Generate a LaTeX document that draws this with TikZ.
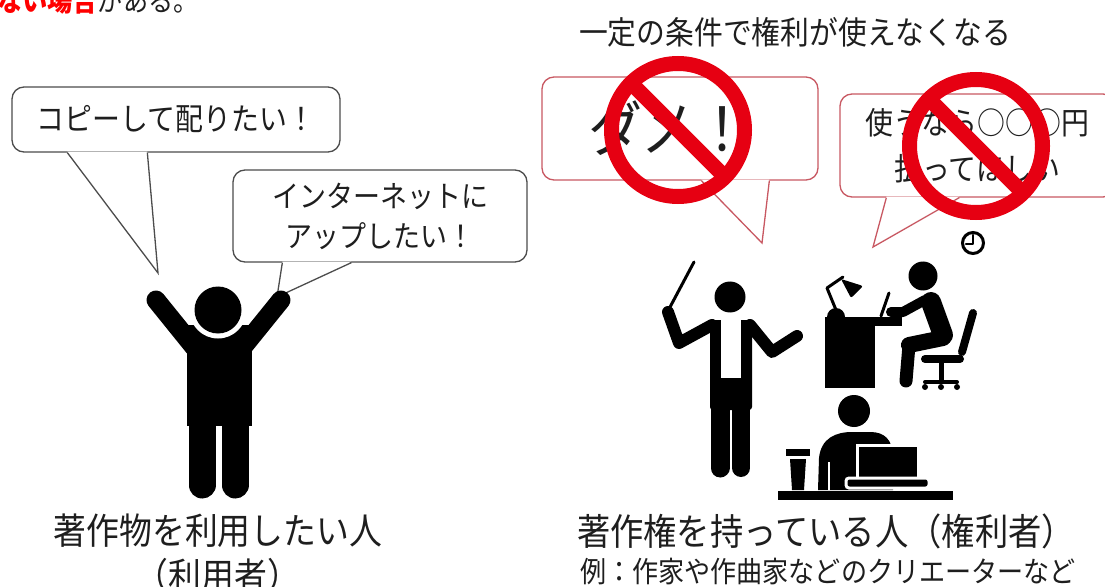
\documentclass[tikz,border=0pt]{standalone}
\usepackage{fontspec}
\setmainfont{Noto Sans CJK JP}[FakeStretch=0.9]
\usetikzlibrary{positioning, calc}

\definecolor{signred}{RGB}{230,0,18}
\definecolor{callred}{RGB}{200,88,98}
\definecolor{inkgray}{RGB}{30,30,30}

\tikzset{
  bubble/.style={draw=black!70, line width=1.3bp, fill=white, rounded corners=12bp, inner sep=0pt, align=center, text=inkgray},
  redbubble/.style={bubble, draw=callred},
  tailline/.style={black!70, line width=1.3bp},
  limb/.style={draw=black, line cap=round, line join=round},
  nosign/.style={draw=signred, line width=15bp},
  caption/.style={inner sep=0pt, text=inkgray, align=center},
}

\begin{document}
\begin{tikzpicture}[x=1bp, y=-1bp]
\useasboundingbox (0,0) rectangle (1105,587);
\clip (0,0) rectangle (1105,587);

% tail end of the sentence above
\node[caption, anchor=base east, font=\fontsize{28bp}{32bp}\selectfont] (prev) at (199,12) {\textcolor{red}{\bfseries ない場合}がある。};

% ---- left: the user ----
\node[bubble, minimum width=328bp, minimum height=65bp, font=\fontsize{31bp}{36bp}\selectfont] (copy) at (176,119.5) {コピーして配りたい！};
\coordinate (copytip) at (158,273);
\fill[white] ($(copy.south west)+(56,-1)$) -- (copytip) -- ($(copy.south west)+(136,-1)$) -- cycle;
\draw[tailline] ($(copy.south west)+(56,0)$) -- (copytip) -- ($(copy.south west)+(136,0)$);

\node[bubble, minimum width=294bp, minimum height=92bp, font=\fontsize{30bp}{40bp}\selectfont] (upload) at (380,216) {インターネットに\\アップしたい！};
\coordinate (uploadtip) at (277,297);
\fill[white] ($(upload.south west)+(50,-1)$) -- (uploadtip) -- ($(upload.south west)+(119,-1)$) -- cycle;
\draw[tailline] ($(upload.south west)+(50,0)$) -- (uploadtip) -- ($(upload.south west)+(119,0)$);

% person with raised arms
\draw[limb, line width=19bp] (156,300) -- (198,352);
\draw[limb, line width=19bp] (281,300) -- (239,352);
\fill (187,325) rectangle (252,426);
\draw[limb, line width=27bp] (202,420) -- (202,485);
\draw[limb, line width=27bp] (235,420) -- (235,485);
\fill[white] (218,310) circle (28.5);
\fill (218,310) circle (23.5);

\node[caption, font=\fontsize{36.5bp}{40bp}\selectfont] (user) at (218,531) {著作物を利用したい人};
\node[caption, font=\fontsize{36.5bp}{40bp}\selectfont] (userb) at (218,576) {（利用者）};

% ---- right: the rights holder ----
\node[caption, font=\fontsize{32bp}{36bp}\selectfont] (cond) at (795,32) {一定の条件で権利が使えなくなる};

\node[redbubble, minimum width=276bp, minimum height=103bp, font=\fontsize{60bp}{66bp}\selectfont] (dame) at (680,128.5) {\hspace*{-22bp}ダメ！};
\coordinate (dametip) at (762,243);
\fill[white] ($(dame.south west)+(160,-1)$) -- (dametip) -- ($(dame.south west)+(228,-1)$) -- cycle;
\draw[tailline, callred] ($(dame.south west)+(160,0)$) -- (dametip) -- ($(dame.south west)+(228,0)$);

\node[redbubble, minimum width=275bp, minimum height=103bp, font=\fontsize{31bp}{46bp}\selectfont] (pay) at (977.5,145.5) {使うなら○○○円\\払ってほしい};
\coordinate (paytip) at (873,247);
\fill[white] ($(pay.south west)+(47,-1)$) -- (paytip) -- ($(pay.south west)+(120,-1)$) -- cycle;
\draw[tailline, callred] ($(pay.south west)+(47,0)$) -- (paytip) -- ($(pay.south west)+(120,0)$);

% no-signs over the two bubbles
\draw[nosign] (678,130) circle (66.5);
\draw[nosign] (631,83) -- (725,177);
\draw[nosign] (976,146) circle (66.5);
\draw[nosign] (929,99) -- (1023,193);

% clock
\draw[line width=3bp] (973,243) circle (10.5);
\draw[line width=2.5bp, line cap=round, line join=round] (973,235) -- (973,244) -- (966,244);

% conductor
\fill (730,297) circle (15.5);
\draw[limb, line width=12bp] (712,325) -- (679,343) -- (668,312);
\draw[limb, line width=12bp] (750,325) -- (772,352) -- (797,336);
\draw[line width=3bp, line cap=round] (669,309) -- (694,262);
\fill[rounded corners=3bp] (710,410) -- (710,320) -- (752,320) -- (752,410) -- cycle;
\fill[white] (721,319) rectangle (741,378);
\draw[limb, line width=19bp] (720,405) -- (720,468);
\draw[limb, line width=18bp] (741,405) -- (741,468);

% writer at the desk
\fill (827,317) arc[start angle=180, end angle=360, radius=9];
\draw[line width=3bp, line cap=round, line join=round] (836,310) -- (827,288) -- (843,277);
\fill[rounded corners=2bp] (841,279) -- (863,286) -- (851,298) -- cycle;
\fill (825,317) rectangle (902,326);
\fill (825,317) rectangle (875,388);
\draw[line width=3bp, line cap=round] (881,316) -- (889,293);
\fill (923,276) circle (14.5);
\draw[limb, line width=20bp] (931,302) -- (943,335);
\draw[limb, line width=10bp] (925,300) -- (903,312) -- (891,312);
\draw[limb, line width=16bp] (943,338) -- (909,345);
\draw[limb, line width=13bp] (909,345) -- (906,381);
\draw[limb, line width=8bp] (973,313) -- (962,352);
\draw[limb, line width=8bp] (925,359) -- (960,359);
\draw[line width=5bp] (941,361) -- (941,381);
\draw[line width=4bp, line cap=round] (925,382) -- (957,382);
\foreach \wx in {925,941,957}
  \fill (\wx,387) circle (3);

% person at the laptop
\fill (854,411) circle (16);
\fill (818,490) -- (819,458) .. controls (821,438) and (836,432) .. (852,432) -- (870,432) .. controls (885,432) and (892,440) .. (893,455) -- (893,490) -- cycle;
\draw[white, line width=2bp] (829,462) -- (829,490);
\filldraw[draw=white, line width=3bp, fill=black] (857,445) rectangle (918,479);
\filldraw[draw=white, line width=3bp, fill=black, rounded corners=3bp] (846,478) rectangle (929,488);
\fill (786,449) rectangle (810,456);
\fill (790,459) -- (806,459) -- (804,490) -- (792,490) -- cycle;
\fill (778,491) rectangle (953,500);

\node[caption, font=\fontsize{37bp}{40bp}\selectfont] (holder) at (826,531) {著作権を持っている人（権利者）};
\node[caption, font=\fontsize{29bp}{32bp}\selectfont] (holderb) at (828,572) {例：作家や作曲家などのクリエーターなど};
\end{tikzpicture}
\end{document}
